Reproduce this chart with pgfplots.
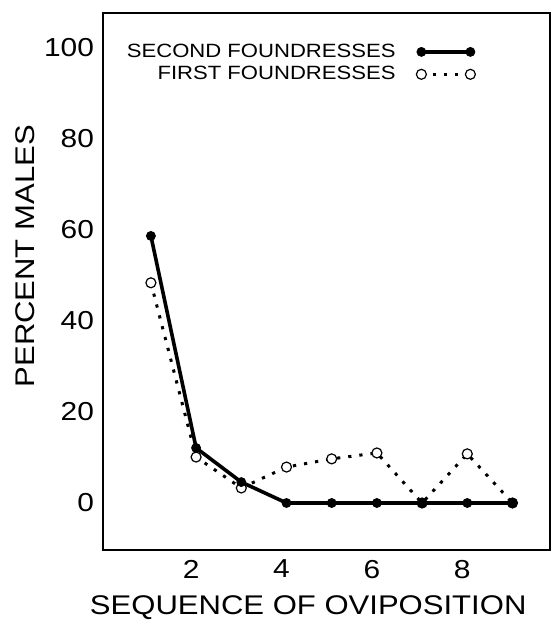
\documentclass[border=0pt]{standalone}
\usepackage{fontspec}
\setmainfont{Liberation Sans}[FakeStretch=1.15]
\usepackage{pgfplots}
\pgfplotsset{compat=1.18}

\begin{document}
\begin{tikzpicture}
\begin{axis}[
    name=ax,
    scale only axis,
    width=223.5pt, height=268.5pt,
    xmin=-0.06, xmax=9.83, ymin=-10.33, ymax=107.7,
    axis line style={line width=0.9pt},
    xtick={2,4,6,8}, ytick={0,20,40,60,80,100},
    major tick length=0pt,
    /pgf/number format/assume math mode=true,
    tick label style={font=\fontsize{13}{15}\selectfont},
    xticklabel style={xshift=-2.5pt, yshift=-1.5pt},
    yticklabel style={xshift=-1pt},
    xlabel={SEQUENCE OF OVIPOSITION},
    ylabel={PERCENT MALES},
    every axis x label/.style={at={(axis description cs:0.459,-0.108)},anchor=center,
        font=\fontsize{13.5}{16}\selectfont},
    every axis y label/.style={at={(axis description cs:-0.1745,0.547)},rotate=90,anchor=center,
        font=\fontsize{13.5}{16}\selectfont},
    clip=false,
    reverse legend,
    legend plot pos=right,
    legend cell align=right,
    legend style={draw=none, fill=none, at={(axis description cs:0.834,0.951)}, anchor=north east,
        font=\fontsize{9.6}{10}\selectfont, row sep=-1pt, inner sep=0pt},
    legend image code/.code={\path (0pt,0pt); \draw[#1] plot coordinates {(10pt,0pt) (34.5pt,0pt)};},
]
% first foundresses drawn underneath
\addplot[black, line width=1.5pt, line cap=butt, dash pattern=on 1.6pt off 4pt,
    mark=*, mark size=2.5pt, mark options={solid, line width=0.6pt, draw=black, fill=white}] coordinates {
  (1,48.4)(2,10.1)(3,3.3)(4,7.9)(5,9.7)(6,11.0)(7,0)(8,10.8)(9,0)};
\addlegendentry{FIRST FOUNDRESSES}
\addplot[black, line width=1.8pt, mark=*, mark size=2.2pt,
    mark options={solid, line width=0.5pt}] coordinates {
  (1,58.7)(2,12.1)(3,4.6)(4,0)(5,0)(6,0)(7,0)(8,0)(9,0)};
\addlegendentry{SECOND FOUNDRESSES}
\end{axis}
\pgfresetboundingbox
\path[use as bounding box] ([xshift=-51.5pt, yshift=-35pt]ax.south west) rectangle ([xshift=1.5pt, yshift=6.5pt]ax.north east);
\end{tikzpicture}
\end{document}
